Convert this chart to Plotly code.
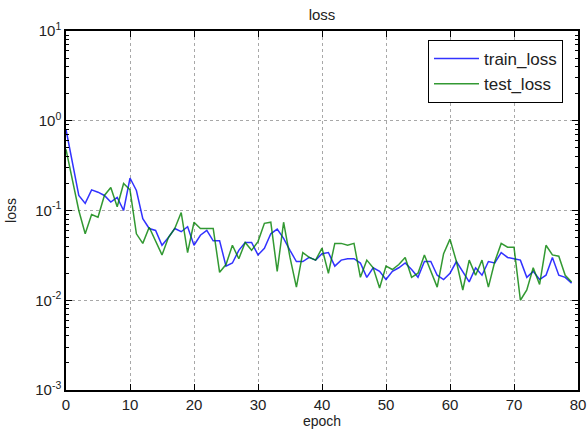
import plotly.graph_objects as go

epochs = list(range(80))
train_loss = [0.80, 0.33, 0.147, 0.12, 0.17, 0.16, 0.147, 0.124, 0.14, 0.10,
              0.23, 0.167, 0.081, 0.063, 0.06, 0.041, 0.05, 0.063, 0.058, 0.066,
              0.041, 0.053, 0.06, 0.046, 0.046, 0.024, 0.026, 0.036, 0.044, 0.044,
              0.032, 0.038, 0.055, 0.062, 0.049, 0.036, 0.027, 0.027, 0.030, 0.028,
              0.033, 0.034, 0.024, 0.028, 0.029, 0.029, 0.026, 0.018, 0.023, 0.021,
              0.017, 0.021, 0.023, 0.026, 0.022, 0.018, 0.027, 0.027, 0.019, 0.017,
              0.020, 0.027, 0.021, 0.016, 0.023, 0.019, 0.027, 0.026, 0.034, 0.030,
              0.029, 0.028, 0.018, 0.021, 0.017, 0.019, 0.030, 0.019, 0.018, 0.0155]
test_loss = [0.48, 0.21, 0.10, 0.055, 0.09, 0.084, 0.147, 0.18, 0.11, 0.20,
             0.17, 0.055, 0.043, 0.065, 0.046, 0.032, 0.05, 0.063, 0.095, 0.034,
             0.074, 0.063, 0.063, 0.063, 0.0205, 0.025, 0.041, 0.029, 0.044, 0.036,
             0.045, 0.072, 0.074, 0.021, 0.074, 0.030, 0.014, 0.034, 0.030, 0.028,
             0.038, 0.020, 0.043, 0.043, 0.041, 0.043, 0.018, 0.028, 0.023, 0.0137,
             0.024, 0.022, 0.025, 0.030, 0.018, 0.020, 0.032, 0.021, 0.014, 0.033,
             0.048, 0.027, 0.013, 0.028, 0.019, 0.028, 0.014, 0.027, 0.043, 0.039,
             0.039, 0.010, 0.013, 0.023, 0.015, 0.041, 0.032, 0.031, 0.019, 0.016]

x_ticks = [0, 10, 20, 30, 40, 50, 60, 70, 80]
y_tickvals = [1e-3, 1e-2, 1e-1, 1e0, 1e1]
y_ticktext = ["10<sup>-3</sup>", "10<sup>-2</sup>", "10<sup>-1</sup>", "10<sup>0</sup>", "10<sup>1</sup>"]
y_minor = [m * 10.0 ** e for e in range(-3, 1) for m in range(2, 10)]

font = "Liberation Sans, Arial, sans-serif"
W, H = 587, 434

fig = go.Figure()
fig.add_trace(go.Scatter(x=epochs, y=train_loss, mode="lines", name="train_loss",
                         line=dict(color="#0000ff", width=1.5), opacity=0.8))
fig.add_trace(go.Scatter(x=epochs, y=test_loss, mode="lines", name="test_loss",
                         line=dict(color="#008000", width=1.5), opacity=0.8))

axis_common = dict(showline=True, linecolor="black", linewidth=1.5, mirror="ticks",
                   ticks="inside", tickcolor="black", ticklen=6, automargin=False,
                   showgrid=True, gridcolor="#a8a8a8", griddash="3px,3px", gridwidth=1,
                   zeroline=False, tickfont=dict(family=font, size=15, color="#222"))

fig.update_xaxes(range=[0, 80], tickvals=x_ticks, ticklabeloverflow="allow",
                 title=dict(text="epoch", font=dict(family=font, size=14, color="#222"), standoff=4),
                 **axis_common)
fig.update_yaxes(type="log", range=[-3, 1], tickvals=y_tickvals, ticktext=y_ticktext,
                 minor=dict(tickvals=y_minor, ticks="inside", ticklen=3, tickcolor="black", showgrid=False),
                 title=dict(text="loss", font=dict(family=font, size=14, color="#222"), standoff=15),
                 **axis_common)

fig.update_layout(
    width=W, height=H,
    margin=dict(l=66, r=9, t=31, b=44),
    paper_bgcolor="white", plot_bgcolor="white",
    title=dict(text="loss", x=(66 + W - 9) / 2 / W, xanchor="center", yref="container",
               y=1 - 15 / H, yanchor="middle",
               font=dict(family=font, size=15, color="#222")),
    legend=dict(x=(428 - 66) / 512, xanchor="left", y=0.975, yanchor="top",
                bordercolor="black", borderwidth=1, bgcolor="white",
                font=dict(family=font, size=17, color="#222"), itemwidth=45,
                tracegroupgap=2),
    showlegend=True,
)

fig.write_html("out.html", config={"displayModeBar": False},
               post_script="document.body.style.margin='0';document.body.style.overflow='hidden';")
